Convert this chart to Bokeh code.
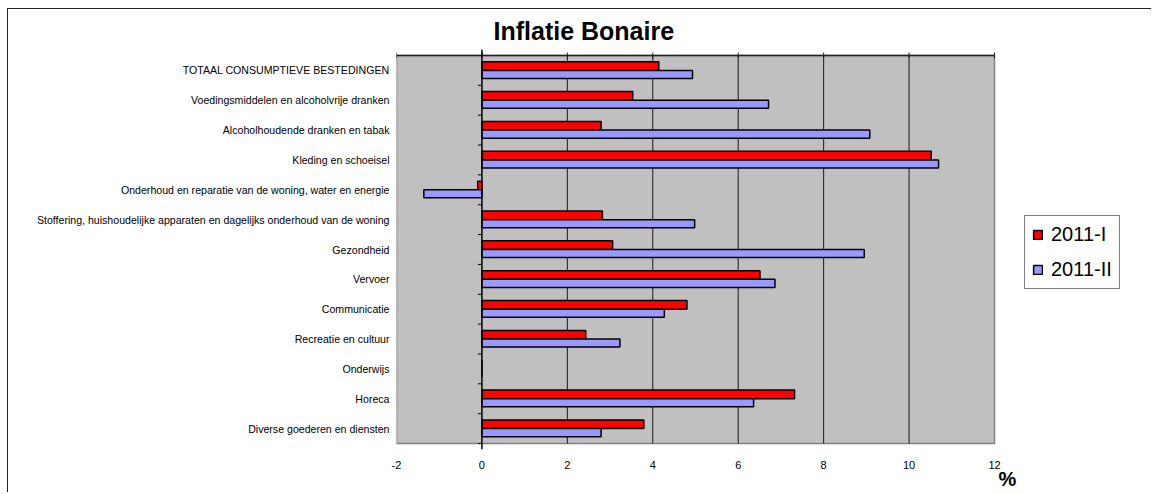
import math
from bokeh.plotting import figure
from bokeh.models import (ColumnDataSource, FactorRange, Range1d, LinearAxis, FixedTicker,
                          Span, Legend, LegendItem)
from bokeh.transform import dodge
from bokeh.embed import file_html
from bokeh.resources import INLINE

categories = [
    "TOTAAL CONSUMPTIEVE BESTEDINGEN",
    "Voedingsmiddelen en alcoholvrije dranken",
    "Alcoholhoudende dranken en tabak",
    "Kleding en schoeisel",
    "Onderhoud en reparatie van de woning, water en energie",
    "Stoffering, huishoudelijke apparaten en dagelijks onderhoud van de woning",
    "Gezondheid",
    "Vervoer",
    "Communicatie",
    "Recreatie en cultuur",
    "Onderwijs",
    "Horeca",
    "Diverse goederen en diensten",
]
inflatie_2011_I = [4.14, 3.53, 2.79, 10.52, -0.10, 2.82, 3.06, 6.51, 4.80, 2.43, 0.0, 7.32, 3.79]
inflatie_2011_II = [4.93, 6.71, 9.08, 10.69, -1.36, 4.98, 8.95, 6.86, 4.27, 3.23, 0.0, 6.36, 2.79]
x_ticks = [-2, 0, 2, 4, 6, 8, 10, 12]
unit_label = "%"

FONT = "Liberation Sans"

# layout (pixels): the value axis covers DATA_W px; the frame extends right to hold the legend
DATA_W = 598
FRAME_W = 752
CAT_PAD = 0.2          # total categorical padding (half above, half below the grey box)
FRAME_H = 400
x_end = x_ticks[0] + (x_ticks[-1] - x_ticks[0]) * FRAME_W / DATA_W
unit_pos = x_ticks[-1] + (x_ticks[-1] - x_ticks[0]) * 13 / DATA_W

source = ColumnDataSource(dict(cat=categories, r1=inflatie_2011_I, r2=inflatie_2011_II))
box = ColumnDataSource(dict(top=[categories[0]], bot=[categories[-1]],
                            left=[x_ticks[0]], right=[x_ticks[-1]]))
top_ticks = ColumnDataSource(dict(x=x_ticks, y=[categories[0]] * len(x_ticks)))
grid_x = x_ticks[2:-1]
grid_src = ColumnDataSource(dict(x=grid_x, top=[categories[0]] * len(grid_x),
                                 bot=[categories[-1]] * len(grid_x)))

p = figure(frame_width=FRAME_W, frame_height=FRAME_H,
           y_range=FactorRange(factors=categories[::-1], range_padding=CAT_PAD,
                               range_padding_units="absolute"),
           x_range=Range1d(x_ticks[0], x_end),
           output_backend="svg", toolbar_location=None,
           min_border_left=388, min_border_right=4, min_border_top=40, min_border_bottom=44,
           background_fill_color="white", border_fill_color="white",
           outline_line_color=None)

p.styles = {"position": "relative", "left": "8px", "top": "9px",
            "box-shadow": "-1px -1px 0 0 #222"}

# title
p.title.text = "Inflatie Bonaire"
p.title.text_font = FONT
p.title.text_font_size = "25px"
p.title.text_font_style = "bold"
p.title.text_color = "black"
p.title.align = "left"
p.title.offset = 97
p.title.standoff = 10

# grey plot area
p.quad(left="left", right="right", top=dodge("top", 0.5, range=p.y_range),
       bottom=dodge("bot", -0.5, range=p.y_range), fill_color="#C0C0C0",
       line_color="#808080", line_width=1.5, source=box, level="image")

# vertical grid lines inside the grey area
p.xgrid.grid_line_color = None
p.ygrid.grid_line_color = None
p.segment(x0="x", x1="x", y0=dodge("bot", -0.5, range=p.y_range),
          y1=dodge("top", 0.5, range=p.y_range), line_color="#1a1a1a", line_width=1,
          source=grid_src)

# top edge with ticks
p.segment(x0="left", x1="right", y0=dodge("top", 0.5, range=p.y_range),
          y1=dodge("top", 0.5, range=p.y_range), line_color="#222", line_width=1.5, source=box)
p.scatter(x="x", y=dodge("y", 0.5, range=p.y_range), marker="dash", angle=math.pi / 2,
          size=6, line_color="#222", line_width=1, source=top_ticks)

# bottom axis
xb = p.below[0]
xb.ticker = FixedTicker(ticks=x_ticks)
xb.axis_line_color = None
xb.major_tick_line_color = None
xb.major_tick_in = 0
xb.major_tick_out = 0
xb.minor_tick_line_color = None
xb.major_label_standoff = 11
xb.major_label_text_font = FONT
xb.major_label_text_font_size = "11px"
xb.major_label_text_color = "black"
xb.major_label_overrides = {t: str(t) for t in x_ticks}

# unit "%" under the end of the value axis
xu = LinearAxis(ticker=FixedTicker(ticks=[unit_pos]), major_label_overrides={unit_pos: unit_label},
                axis_line_color=None, major_tick_line_color=None, major_tick_in=0,
                major_tick_out=0, minor_tick_line_color=None, major_label_standoff=-4,
                major_label_text_font=FONT, major_label_text_font_size="20px",
                major_label_text_font_style="bold", major_label_text_color="black")
p.add_layout(xu, "below")

# left category axis
ya = p.yaxis[0]
ya.axis_line_color = None
ya.major_tick_line_color = None
ya.major_tick_in = 0
ya.major_tick_out = 0
ya.minor_tick_line_color = None
ya.major_label_standoff = 7
ya.major_label_text_font = FONT
ya.major_label_text_font_size = "10.6px"
ya.major_label_text_color = "black"

# bars
r1 = p.hbar(y=dodge("cat", 0.145, range=p.y_range), left=0, right="r1", height=0.29,
            fill_color="#FF0000", line_color="black", line_width=1.5, source=source)
r2 = p.hbar(y=dodge("cat", -0.135, range=p.y_range), left=0, right="r2", height=0.27,
            fill_color="#9999FF", line_color="black", line_width=1.5, source=source)

# zero line with category ticks
p.add_layout(Span(location=0, dimension="height", line_color="black", line_width=1.5))
p.ray(x=0, y=dodge("cat", -0.5, range=p.y_range), length=4, length_units="screen",
      angle=math.pi, line_color="black", line_width=1, source=source)

legend = Legend(items=[LegendItem(label="2011-I", renderers=[r1]),
                       LegendItem(label="2011-II", renderers=[r2])],
                location=(628, 160), border_line_color="black", border_line_width=1,
                background_fill_color="white", background_fill_alpha=1,
                label_text_font=FONT, label_text_font_size="20px", label_text_color="black",
                glyph_width=11, glyph_height=11, label_standoff=8, spacing=12,
                padding=7, margin=0, label_height=23)
p.add_layout(legend)

open("out.html", "w").write(file_html(p, INLINE))
